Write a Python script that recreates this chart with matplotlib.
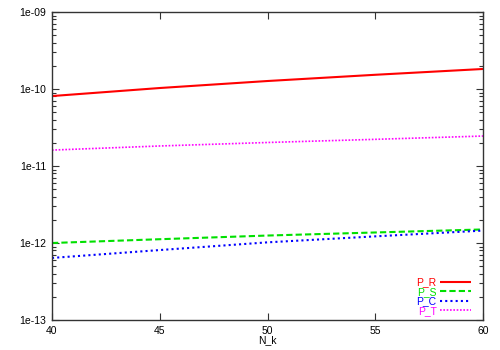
import matplotlib
matplotlib.use("Agg")
import matplotlib.pyplot as plt
from matplotlib.ticker import LogLocator, FixedLocator, NullFormatter

plt.rcParams['font.family'] = ['Liberation Sans', 'DejaVu Sans']

N_k = [40, 45, 50, 55, 60]
P_R = [8.1e-11, 1.03e-10, 1.27e-10, 1.53e-10, 1.82e-10]
P_S = [1.0e-12, 1.12e-12, 1.25e-12, 1.37e-12, 1.50e-12]
P_C = [6.4e-13, 8.1e-13, 1.02e-12, 1.22e-12, 1.45e-12]
P_T = [1.61e-11, 1.82e-11, 2.02e-11, 2.22e-11, 2.45e-11]

x_ticks = [40, 45, 50, 55, 60]
y_ticks = [1e-13, 1e-12, 1e-11, 1e-10, 1e-9]
y_labels = ['1e-13', '1e-12', '1e-11', '1e-10', '1e-09']

fig = plt.figure(figsize=(5, 3.5), dpi=100)
ax = fig.add_axes([0.104, 0.0857, 0.862, 0.88])

series = [
    ('P_R', P_R, '#ff0000', (0, ()), 1.5),
    ('P_S', P_S, '#00e000', (0, (3, 1.5)), 1.5),
    ('P_C', P_C, '#0000ff', (0, (1, 1.5)), 1.5),
    ('P_T', P_T, '#ff00ff', (0, (1, 1)), 1.2),
]
handles = []
for name, vals, col, ls, lw in series:
    h, = ax.plot(N_k, vals, color=col, linestyle=ls, linewidth=lw, label=name)
    handles.append(h)

ax.set_yscale('log')
ax.set_xlim(40, 60)
ax.set_ylim(1e-13, 1e-9)
ax.xaxis.set_major_locator(FixedLocator(x_ticks))
ax.set_yticks(y_ticks)
ax.set_yticklabels(y_labels)
ax.yaxis.set_minor_locator(LogLocator(base=10, subs=range(2, 10)))
ax.yaxis.set_minor_formatter(NullFormatter())
ax.tick_params(axis='both', which='both', direction='in', top=True, right=True,
               labelsize=7.5, colors='#333333', labelcolor='black', width=0.8)
ax.tick_params(which='major', length=5, pad=4)
ax.tick_params(which='minor', length=3)
for sp in ax.spines.values():
    sp.set_linewidth(1.0)
    sp.set_color('#333333')
ax.set_xlabel('N_k', fontsize=7.5, labelpad=0)

leg = ax.legend(handles=handles, loc='lower right', frameon=False, markerfirst=False,
                fontsize=7.5, handlelength=3.0, handletextpad=0.3, labelspacing=-0.05,
                borderaxespad=0.0, bbox_to_anchor=(0.982, 0.0))
for txt, (_, _, col, _, _) in zip(leg.get_texts(), series):
    txt.set_color(col)

fig.savefig('out.png', dpi=100)
